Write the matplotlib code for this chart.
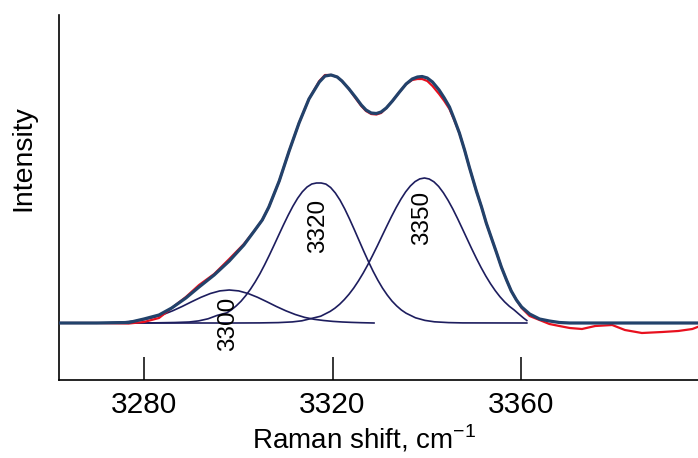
import matplotlib
matplotlib.use("Agg")
import matplotlib.pyplot as plt

plt.rcParams['font.family'] = ['Liberation Sans', 'DejaVu Sans']
plt.rcParams['mathtext.fontset'] = 'custom'
plt.rcParams['mathtext.rm'] = 'Liberation Sans'

# Raman shift (cm-1) and intensity (a.u.)
fit_x = [3262, 3270, 3276.8, 3280, 3283.2, 3285.9, 3288.9, 3291.7, 3294.9, 3298.1,
         3301.2, 3303.4, 3305.1, 3306.5, 3308.7, 3310.8, 3312.9, 3315.0, 3317.2,
         3318.4, 3319.7, 3321.0, 3322.0, 3323.5, 3325.0, 3326.1, 3327.1, 3328.2,
         3329.3, 3330.3, 3331.4, 3332.7, 3334.2, 3335.6, 3336.9, 3338.0, 3339.0,
         3340.1, 3341.2, 3342.6, 3343.7, 3344.8, 3345.8, 3346.9, 3348.0, 3349.0,
         3350.5, 3351.6, 3352.6, 3353.7, 3354.8, 3355.8, 3356.9, 3357.9, 3359.0,
         3360.1, 3361.8, 3363.9, 3366.0, 3368.1, 3370.3, 3397.4]
fit_y = [0.0, 0.0, 0.005, 0.04, 0.08, 0.15, 0.25, 0.36, 0.48, 0.62,
         0.78, 0.92, 1.03, 1.16, 1.42, 1.72, 2.00, 2.24, 2.41,
         2.47, 2.48, 2.46, 2.42, 2.34, 2.25, 2.18, 2.13, 2.10,
         2.095, 2.11, 2.15, 2.22, 2.31, 2.39, 2.44, 2.46, 2.465,
         2.45, 2.41, 2.33, 2.25, 2.16, 2.04, 1.90, 1.73, 1.56,
         1.32, 1.16, 1.00, 0.85, 0.70, 0.56, 0.43, 0.32, 0.23,
         0.16, 0.09, 0.04, 0.02, 0.005, 0.0, 0.0]

data_x = [3262, 3270, 3276.8, 3280, 3283.2, 3285.9, 3288.9, 3291.7, 3294.9, 3298.1,
          3301.2, 3303.4, 3305.1, 3306.5, 3308.7, 3310.8, 3312.9, 3315.0, 3317.2,
          3318.4, 3319.7, 3321.0, 3322.0, 3323.5, 3325.0, 3326.1, 3327.1, 3328.2,
          3329.3, 3330.3, 3331.4, 3332.7, 3334.2, 3335.6, 3336.9, 3338.0, 3339.0,
          3340.1, 3341.2, 3342.6, 3343.7, 3344.8, 3345.8, 3346.9, 3348.0, 3349.0,
          3350.5, 3351.6, 3352.6, 3353.7, 3354.8, 3355.8, 3356.9, 3357.9, 3359.0,
          3360.1, 3361.8, 3363.9, 3366.0, 3368.1, 3370.3, 3372.9, 3375.7, 3379.3,
          3382.0, 3385.6, 3389.9, 3393.3, 3396.3, 3397.4]
data_y = [0.0, 0.0, -0.005, 0.01, 0.05, 0.15, 0.26, 0.38, 0.49, 0.64,
          0.79, 0.92, 1.03, 1.16, 1.42, 1.72, 2.00, 2.24, 2.42,
          2.48, 2.48, 2.46, 2.42, 2.34, 2.24, 2.17, 2.12, 2.09,
          2.085, 2.10, 2.15, 2.22, 2.31, 2.39, 2.43, 2.44, 2.44,
          2.42, 2.37, 2.29, 2.22, 2.14, 2.03, 1.90, 1.73, 1.56,
          1.32, 1.16, 1.00, 0.85, 0.70, 0.56, 0.43, 0.32, 0.23,
          0.15, 0.07, 0.03, -0.01, -0.03, -0.05, -0.06, -0.03, -0.02,
          -0.07, -0.10, -0.09, -0.08, -0.06, -0.04]

# fitted components
p3300_x = [3262, 3268.1, 3270.1, 3272.1, 3274.1, 3276.1, 3278.1, 3280.1, 3282.1,
           3284.1, 3286.1, 3288.1, 3290.1, 3292.1, 3294.1, 3296.1, 3298.1, 3300.1,
           3302.1, 3304.1, 3306.1, 3308.1, 3310.1, 3312.1, 3314.1, 3316.1, 3318.1,
           3320.1, 3322.1, 3324.1, 3326.1, 3328.8]
p3300_y = [0.0, 0.0, 0.001, 0.003, 0.006, 0.012, 0.021, 0.035, 0.056,
           0.085, 0.122, 0.165, 0.212, 0.257, 0.295, 0.321, 0.330, 0.321,
           0.295, 0.257, 0.212, 0.165, 0.122, 0.085, 0.056, 0.037, 0.025,
           0.016, 0.010, 0.006, 0.003, 0.0]

p3320_x = [3262, 3281.6, 3286.6, 3289.6, 3291.6, 3293.6, 3295.6, 3297.6, 3298.6,
           3299.6, 3300.6, 3301.6, 3302.6, 3303.6, 3304.6, 3305.6, 3306.6, 3307.6,
           3308.6, 3309.6, 3310.6, 3311.6, 3312.6, 3313.6, 3314.6, 3315.6, 3316.6,
           3317.6, 3318.6, 3319.6, 3320.6, 3321.6, 3322.6, 3323.6, 3324.6, 3325.6,
           3326.6, 3327.6, 3328.6, 3329.6, 3330.6, 3331.6, 3332.6, 3333.6, 3334.6,
           3335.6, 3337.6, 3339.6, 3341.6, 3344.6, 3347.6, 3361.2]
p3320_y = [0.0, 0.001, 0.005, 0.010, 0.021, 0.042, 0.077, 0.102, 0.133,
           0.172, 0.218, 0.274, 0.338, 0.411, 0.492, 0.582, 0.678, 0.778,
           0.880, 0.981, 1.078, 1.168, 1.247, 1.312, 1.360, 1.390, 1.400,
           1.400, 1.389, 1.355, 1.300, 1.228, 1.140, 1.041, 0.936, 0.828,
           0.720, 0.616, 0.518, 0.429, 0.349, 0.280, 0.220, 0.171, 0.130,
           0.098, 0.052, 0.026, 0.012, 0.004, 0.001, 0.0]

p3350_x = [3262, 3299.5, 3304.5, 3308.5, 3311.5, 3313.5, 3315.5, 3317.5, 3319.5,
           3320.5, 3321.5, 3322.5, 3323.5, 3324.5, 3325.5, 3326.5, 3327.5, 3328.5,
           3329.5, 3330.5, 3331.5, 3332.5, 3333.5, 3334.5, 3335.5, 3336.5, 3337.5,
           3338.5, 3339.5, 3340.5, 3341.5, 3342.5, 3343.5, 3344.5, 3345.5, 3346.5,
           3347.5, 3348.5, 3349.5, 3350.5, 3351.5, 3352.5, 3353.5, 3354.5, 3355.5,
           3356.5, 3357.5, 3358.5, 3359.5, 3360.5, 3361.2]
p3350_y = [0.0, 0.0, 0.001, 0.004, 0.011, 0.022, 0.045, 0.068, 0.116,
           0.148, 0.187, 0.234, 0.288, 0.350, 0.421, 0.499, 0.584, 0.676,
           0.771, 0.870, 0.968, 1.064, 1.155, 1.238, 1.311, 1.370, 1.414,
           1.441, 1.450, 1.440, 1.412, 1.366, 1.303, 1.227, 1.141, 1.046,
           0.946, 0.845, 0.744, 0.647, 0.555, 0.470, 0.393, 0.324, 0.263,
           0.211, 0.167, 0.131, 0.09, 0.05, 0.025]

peak_labels = ["3300", "3320", "3350"]
label_x = [3297.8, 3317.0, 3339.0]
label_y = [-0.01, 0.97, 1.05]

xticks = [3280, 3320, 3360]

fig = plt.figure(figsize=(6.98, 4.58), dpi=100)
ax = fig.add_axes([59 / 698, 1 - 380 / 458, 1 - 59 / 698, 365 / 458])

comp_color = "#1d1d5e"
for px, py in [(p3300_x, p3300_y), (p3320_x, p3320_y), (p3350_x, p3350_y)]:
    ax.plot(px, py, color=comp_color, lw=1.2, zorder=2)

ax.plot(data_x, data_y, color="#e8101e", lw=1.6, zorder=3)
ax.plot(fit_x, fit_y, color="#22426b", lw=2.3, zorder=4)

for txt, lx, ly in zip(peak_labels, label_x, label_y):
    ax.text(lx, ly, txt, rotation=90, ha="center", va="center", fontsize=17.5, color="black")

ax.set_xlim(3262, 3397.5)
ax.set_ylim(-0.57, 3.08)

ax.spines['top'].set_visible(False)
ax.spines['right'].set_visible(False)
ax.spines['left'].set_linewidth(1.2)
ax.spines['bottom'].set_linewidth(1.2)

ax.set_xticks(xticks)
ax.set_xticklabels([str(t) for t in xticks])
ax.tick_params(axis='x', direction='in', length=16.5, width=1.1, pad=8, labelsize=21.5)
ax.set_yticks([])

ax.set_xlabel(r"Raman shift, cm$^{\mathrm{-1}}$", fontsize=20)
ax.xaxis.set_label_coords(0.477, -0.118)
ax.set_ylabel("Intensity", fontsize=20.5)
ax.yaxis.set_label_coords(-0.036, 0.608)

fig.savefig("out.png", dpi=100)
